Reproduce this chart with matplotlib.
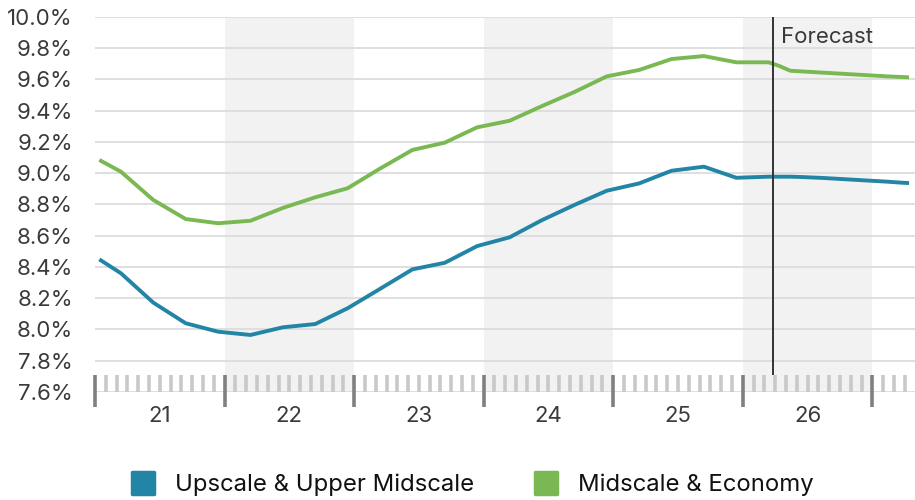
import matplotlib
matplotlib.use("Agg")
import matplotlib.pyplot as plt
from matplotlib.lines import Line2D
from matplotlib.markers import MarkerStyle

plt.rcParams['font.family'] = ['Inter', 'DejaVu Sans']

# x positions in months since Jan 2021
months = [0.4, 2.4, 5.4, 8.4, 11.4, 14.4, 17.4, 20.4, 23.4, 26.4, 29.4, 32.4,
          35.4, 38.4, 41.4, 44.4, 47.4, 50.4, 53.4, 56.4, 59.4, 62.4,
          63.4, 64.4, 65.4, 66.4, 67.4, 68.4, 69.4, 70.4, 71.4, 72.4, 73.4, 74.4, 75.4]

upscale = [8.449, 8.36, 8.172, 8.04, 7.986, 7.965, 8.014, 8.035, 8.136, 8.26, 8.385, 8.427,
           8.534, 8.59, 8.70, 8.797, 8.888, 8.935, 9.016, 9.042, 8.971, 8.978,
           8.978, 8.978, 8.976, 8.973, 8.970, 8.966, 8.962, 8.958, 8.954, 8.950, 8.946, 8.941, 8.937]

midscale = [9.085, 9.01, 8.829, 8.707, 8.680, 8.696, 8.778, 8.846, 8.904, 9.03, 9.149, 9.196,
            9.294, 9.336, 9.43, 9.52, 9.62, 9.661, 9.731, 9.75, 9.71, 9.71,
            9.686, 9.656, 9.652, 9.648, 9.644, 9.640, 9.636, 9.632, 9.628, 9.624, 9.620, 9.617, 9.614]

series_names = ["Upscale & Upper Midscale", "Midscale & Economy"]
series_colors = ["#2385a6", "#7ab853"]

year_labels = ["21", "22", "23", "24", "25", "26"]
shaded_years = [1, 3, 5]  # index of years shaded (22, 24, 26)
forecast_month = 62.8

y_ticks = [7.6, 7.8, 8.0, 8.2, 8.4, 8.6, 8.8, 9.0, 9.2, 9.4, 9.6, 9.8, 10.0]

FS = 16

fig = plt.figure(figsize=(9.15, 5.0), dpi=100)
ax = fig.add_axes([95/915, 108/500, 820/915, 375/500])
ax.set_xlim(0, 75.95)
ax.set_ylim(7.6, 10.0)

for s in ax.spines.values():
    s.set_visible(False)

# shaded year bands
for yi in shaded_years:
    ax.axvspan(yi*12, yi*12+12, color="#f2f2f2", zorder=0, lw=0)

# grid
for v in y_ticks:
    ax.axhline(v, color="#dcdcdc", lw=1.3, zorder=1)

strip_top = 7.6 + 17/156.25
# month ticks
for m in range(1, 76):
    if m % 12 != 0:
        ax.vlines(m, 7.6, strip_top, color="#c9c9c9", lw=2.6, zorder=2)
# year ticks
for m in range(0, 76, 12):
    ax.vlines(m, 7.6 - 15/156.25, strip_top, color="#808080", lw=2.6, zorder=3, clip_on=False)

# lines
ax.plot(months, upscale, color=series_colors[0], lw=2.8, zorder=5, solid_capstyle="butt")
ax.plot(months, midscale, color=series_colors[1], lw=2.8, zorder=5, solid_capstyle="butt")

# forecast marker
ax.vlines(forecast_month, strip_top, 10.0, color="#333333", lw=1.4, zorder=6)
ax.text(forecast_month + 0.75, 9.872, "Forecast", fontsize=FS, color="#3a3a3a",
        va="center", ha="left", zorder=7)

# y axis
ax.set_yticks(y_ticks)
ax.set_yticklabels([f"{v:.1f}%" for v in y_ticks])
ax.tick_params(axis="y", length=0, pad=16, labelsize=FS, labelcolor="#3a3a3a")

# x axis labels (centered in each year)
ax.set_xticks([i*12 + 6 for i in range(len(year_labels))])
ax.set_xticklabels(year_labels)
ax.tick_params(axis="x", length=0, pad=10, labelsize=FS, labelcolor="#3a3a3a")

# legend
ms = MarkerStyle("s", joinstyle="round")
handles = [Line2D([], [], linestyle="none", marker=ms, markersize=16.5,
                  markerfacecolor=c, markeredgecolor=c, markeredgewidth=2.5)
           for c in series_colors]
leg = fig.legend(handles, series_names, loc="center", bbox_to_anchor=(0.5155, 0.03),
                 ncol=2, frameon=False, fontsize=17.2, handletextpad=0.8,
                 columnspacing=2.45, handlelength=1.1)
for t in leg.get_texts():
    t.set_color("#111111")

fig.savefig("out.png", dpi=100)
